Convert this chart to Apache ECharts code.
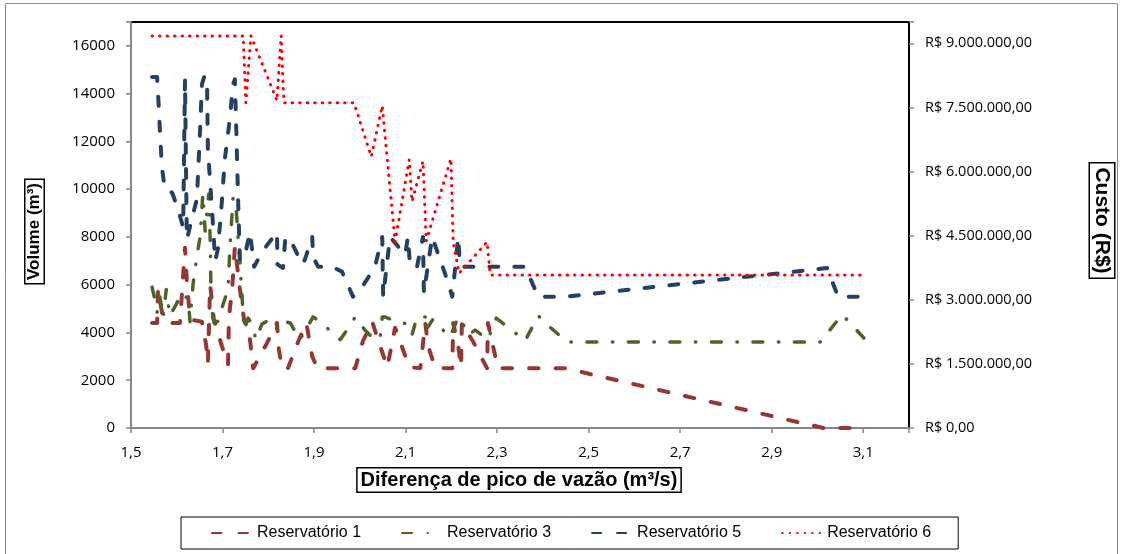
<!DOCTYPE html>
<html><head><meta charset="utf-8">
<script src="https://cdn.jsdelivr.net/npm/echarts@6/dist/echarts.min.js"></script>
<style>html,body{margin:0;padding:0;background:#fff}#c{width:1126px;height:554px}</style>
</head><body><div id="c"></div>
<script>
// ---- Data ----
const seriesNames = ['Reservatório 1', 'Reservatório 3', 'Reservatório 5', 'Reservatório 6'];
const axisTitles = { x: 'Diferença de pico de vazão (m³/s)', yLeft: 'Volume (m³)', yRight: 'Custo (R$)' };

// Reservatório 1 (volume, m³)
const r1X = [1.546,1.557,1.559,1.570,1.577,1.607,1.618,1.622,1.629,1.655,1.664,1.668,1.673,1.681,1.699,1.712,1.714,1.721,1.727,1.738,1.747,1.760,1.767,1.797,1.819,1.823,1.830,1.843,1.865,1.883,1.896,1.907,1.990,2.007,2.027,2.044,2.060,2.077,2.108,2.132,2.143,2.149,2.164,2.186,2.202,2.204,2.215,2.221,2.223,2.248,2.278,2.280,2.296,2.302,2.449,3.013,3.107];
const r1Y = [4400,4400,5800,4600,4400,4400,7550,6200,4550,4450,3500,2700,6000,4550,3400,2650,4650,5800,7600,5800,4550,3700,2500,3550,4400,3300,2500,2500,3600,4400,3000,2500,2500,3650,4450,3450,2550,4200,2550,2500,4400,3450,2550,2500,2500,4400,3450,2550,4400,3600,2500,4400,3000,2500,2500,0,0];

// Reservatório 3 (volume, m³)
const r3X = [1.546,1.552,1.557,1.563,1.570,1.577,1.585,1.598,1.611,1.625,1.629,1.636,1.644,1.651,1.657,1.662,1.666,1.670,1.673,1.675,1.679,1.686,1.690,1.699,1.712,1.716,1.723,1.730,1.734,1.738,1.743,1.747,1.756,1.764,1.773,1.786,1.804,1.821,1.837,1.848,1.869,1.898,1.917,1.939,1.957,1.972,1.990,2.011,2.027,2.044,2.049,2.055,2.081,2.105,2.114,2.125,2.143,2.144,2.160,2.182,2.197,2.215,2.223,2.237,2.252,2.280,2.298,2.339,2.361,2.390,2.411,2.453,3.006,3.054,3.107];
const r3Y = [5900,5400,4850,5500,4600,5800,4700,5150,5650,5400,4450,6100,7200,8000,9800,8250,9050,9800,7900,5400,4600,4100,4550,5050,5800,7500,9650,9150,7900,7000,5400,4100,4600,4350,3700,4350,4550,4100,4450,4400,3700,4650,4400,4000,3700,4100,4650,4100,3800,3700,4650,4650,4450,4350,3900,4650,4650,4100,4550,4100,3800,4650,4450,3900,4100,3700,4600,4000,3650,4700,4300,3600,3600,4750,3650];

// Reservatório 5 (volume, m³)
const r5X = [1.546,1.557,1.561,1.564,1.568,1.574,1.590,1.603,1.614,1.618,1.622,1.644,1.651,1.655,1.660,1.666,1.668,1.677,1.684,1.690,1.699,1.705,1.716,1.723,1.727,1.730,1.734,1.738,1.749,1.760,1.769,1.786,1.799,1.819,1.820,1.832,1.837,1.845,1.858,1.874,1.880,1.896,1.898,1.909,1.939,1.961,1.985,2.005,2.033,2.049,2.051,2.066,2.099,2.105,2.110,2.125,2.138,2.140,2.158,2.191,2.202,2.215,2.219,2.291,2.361,2.390,2.449,3.021,3.045,3.107];
const r5Y = [14700,14700,13350,12100,10850,10000,9850,9150,8400,14600,7900,9600,12500,14400,14700,14700,11700,9150,7000,7500,9600,11250,12950,14400,14600,12500,9600,7000,7250,8200,6750,7350,7700,8200,6850,6700,7900,8000,7500,6850,7050,8000,7150,6750,6750,6550,5500,5900,6750,8000,5500,8000,7250,8000,6750,6750,8000,5650,8000,6200,5500,8000,6750,6750,6750,5500,5500,6700,5500,5500];

// Reservatório 6 (custo, R$)
const r6X = [1.546,1.745,1.751,1.762,1.819,1.828,1.834,1.987,2.025,2.049,2.077,2.108,2.114,2.138,2.145,2.199,2.204,2.217,2.278,2.285,3.107];
const r6Y = [9175000,9175000,7610000,9175000,7660000,9175000,7610000,7610000,6350000,7540000,4350000,6280000,5300000,6240000,4370000,6300000,4350000,3620000,4350000,3580000,3580000];

// ---- Chart ----
function pairs(xs, ys) { return xs.map((x, i) => [x, ys[i]]); }
function brl(v) {
  if (v > 9000001) return '';
  return 'R$ ' + Math.round(v).toString().replace(/\B(?=(\d{3})+(?!\d))/g, '.') + ',00';
}
const tickFont = 'Open Sans';
const grayAxis = '#868686';

const chart = echarts.init(document.getElementById('c'), null, { renderer: 'canvas' });
chart.setOption({
  animation: false,
  backgroundColor: '#fff',
  grid: { left: 131, right: 217, top: 22, bottom: 126, show: true, borderColor: '#000', borderWidth: 2, backgroundColor: '#fff' },
  xAxis: {
    type: 'value', min: 1.5, max: 3.2, interval: 0.2,
    axisLine: { show: true, lineStyle: { color: grayAxis, width: 2 } },
    axisTick: { show: true, inside: false, length: 5, lineStyle: { color: grayAxis, width: 1.5 } },
    splitLine: { show: false },
    axisLabel: { margin: 17, color: '#000', fontFamily: tickFont, fontSize: 15,
      formatter: v => v > 3.15 ? '' : v.toFixed(1).replace('.', ',') }
  },
  yAxis: [
    {
      type: 'value', min: 0, max: 17000, interval: 2000, position: 'left',
      axisLine: { show: true, lineStyle: { color: grayAxis, width: 2 } },
      axisTick: { show: true, length: 5, lineStyle: { color: grayAxis, width: 1.5 } },
      splitLine: { show: false },
      axisLabel: { margin: 16, color: '#000', fontFamily: tickFont, fontSize: 15,
        formatter: v => v > 16001 ? '' : String(v) }
    },
    {
      type: 'value', min: 0, max: 9500000, interval: 1500000, position: 'right',
      axisLine: { show: true, lineStyle: { color: '#000', width: 2 } },
      axisTick: { show: true, length: 5, lineStyle: { color: grayAxis, width: 1.5 } },
      splitLine: { show: false },
      axisLabel: { margin: 16, color: '#000', fontFamily: tickFont, fontSize: 14.5, formatter: brl }
    }
  ],
  legend: {
    left: 181, top: 517,
    padding: [8, 27, 8, 30],
    borderColor: '#000', borderWidth: 1,
    itemWidth: 40, itemHeight: 14, itemGap: 40,
    itemStyle: { opacity: 0 },
    textStyle: { color: '#000', fontFamily: 'Liberation Sans', fontSize: 16 },
    data: seriesNames
  },
  series: [
    { name: seriesNames[0], type: 'line', yAxisIndex: 0, symbol: 'none', data: pairs(r1X, r1Y),
      itemStyle: { color: '#953735' },
      lineStyle: { color: '#953735', width: 4, type: [9.5, 17], cap: 'round', join: 'round' } },
    { name: seriesNames[1], type: 'line', yAxisIndex: 0, symbol: 'none', data: pairs(r3X, r3Y),
      itemStyle: { color: '#4F6228' },
      lineStyle: { color: '#4F6228', width: 3.5, type: [10, 15.5, 0.5, 15.5], cap: 'round', join: 'round' } },
    { name: seriesNames[2], type: 'line', yAxisIndex: 0, symbol: 'none', data: pairs(r5X, r5Y),
      itemStyle: { color: '#254061' },
      lineStyle: { color: '#254061', width: 4, type: [9, 16], cap: 'round', join: 'round' } },
    { name: seriesNames[3], type: 'line', yAxisIndex: 1, symbol: 'none', data: pairs(r6X, r6Y),
      itemStyle: { color: '#FF0000' },
      lineStyle: { color: '#FF0000', width: 3, type: [0.5, 7], cap: 'round', join: 'round' } }
  ],
  graphic: [
    { type: 'rect', silent: true, z: -10, shape: { x: 5.5, y: 3.5, width: 1112, height: 600 },
      style: { fill: 'none', stroke: '#8c8c8c', lineWidth: 1 } },
    { type: 'text', x: 34.5, y: 231.5, rotation: Math.PI / 2,
      style: { text: axisTitles.yLeft, font: 'bold 17px "Liberation Sans", Arial', fill: '#000',
        align: 'center', verticalAlign: 'middle', textAlign: 'center', textVerticalAlign: 'middle',
        borderColor: '#000', borderWidth: 1.5, padding: [1, 3, 0, 3], backgroundColor: '#fff' } },
    { type: 'text', x: 1102, y: 220.5, rotation: -Math.PI / 2,
      style: { text: axisTitles.yRight, font: 'bold 21px "Liberation Sans", Arial', fill: '#000',
        align: 'center', verticalAlign: 'middle', textAlign: 'center', textVerticalAlign: 'middle',
        borderColor: '#000', borderWidth: 1.5, padding: [2, 4, 1, 4], backgroundColor: '#fff' } },
    { type: 'text', x: 519, y: 480,
      style: { text: axisTitles.x, font: 'bold 20px "Liberation Sans", Arial', fill: '#000',
        align: 'center', verticalAlign: 'middle', textAlign: 'center', textVerticalAlign: 'middle',
        borderColor: '#000', borderWidth: 1.5, padding: [2, 3, 1, 3], backgroundColor: '#fff' } }
  ]
});
</script></body></html>
